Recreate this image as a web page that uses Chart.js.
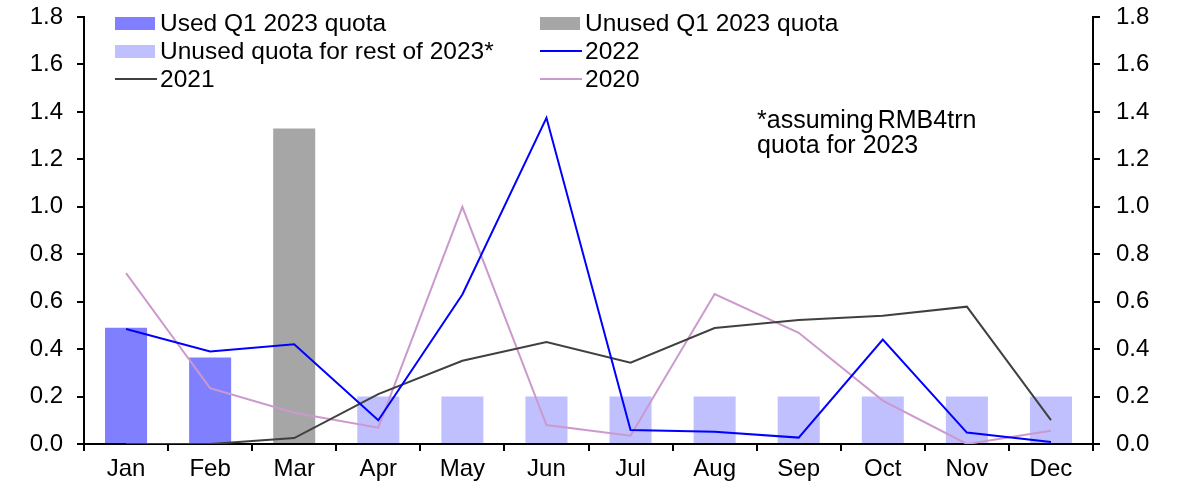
<!DOCTYPE html>
<html><head><meta charset="utf-8">
<script src="https://cdn.jsdelivr.net/npm/chart.js@4/dist/chart.umd.min.js"></script>
<style>html,body{margin:0;padding:0;background:#fff}#wrap{width:1178px;height:495px;position:relative}</style>
</head><body><div id="wrap"><canvas id="c" width="1178" height="495"></canvas></div>
<script>
const categories = ["Jan","Feb","Mar","Apr","May","Jun","Jul","Aug","Sep","Oct","Nov","Dec"];
const usedQ1 = [0.49,0.365,null,null,null,null,null,null,null,null,null,null];
const unusedQ1 = [null,null,1.33,null,null,null,null,null,null,null,null,null];
const unusedRest = [null,null,null,0.2,0.2,0.2,0.2,0.2,0.2,0.2,0.2,0.2];
const y2022 = [0.485,0.39,0.42,0.10,0.63,1.375,0.059,0.052,0.027,0.44,0.048,0.008];
const y2021 = [0,0,0.025,0.21,0.351,0.43,0.343,0.489,0.523,0.541,0.579,0.101];
const y2020 = [0.72,0.235,0.132,0.069,1.0,0.08,0.035,0.632,0.469,0.183,0.0,0.056];
const yTicks = [0,0.2,0.4,0.6,0.8,1.0,1.2,1.4,1.6,1.8];
const legendLabels = ["Used Q1 2023 quota","Unused Q1 2023 quota","Unused quota for rest of 2023*","2022","2021","2020"];
const noteWords = ["*assuming","RMB4trn"];
const noteLine2 = "quota for 2023";

const FONT = "'Liberation Sans', Arial, sans-serif";
const bar = (label,data,color)=>({type:'bar',label,data,backgroundColor:color,grouped:false,barPercentage:0.5,categoryPercentage:1,yAxisID:'y',order:2});
const line = (label,data,color)=>({type:'line',label,data,borderColor:color,backgroundColor:color,borderWidth:2,pointRadius:0,tension:0,yAxisID:'y',order:1});

const legendPlugin = {
  id:'customLegend',
  afterDraw(chart){
    const ctx = chart.ctx;
    const ds = chart.data.datasets;
    const colX = [115,540], rowY = [23,51,79];
    ctx.save();
    ctx.font = "24.5px " + FONT;
    ctx.textBaseline = 'middle';
    ds.forEach((d,i)=>{
      const x = colX[i%2], y = rowY[Math.floor(i/2)];
      if (d.type==='bar'){
        ctx.fillStyle = d.backgroundColor;
        ctx.fillRect(x,y-6,40,13);
      } else {
        ctx.strokeStyle = d.borderColor; ctx.lineWidth = 2;
        ctx.beginPath(); ctx.moveTo(x,y); ctx.lineTo(x+42,y); ctx.stroke();
      }
      ctx.fillStyle = '#000';
      ctx.fillText(legendLabels[i], x+45, y+1);
    });
    ctx.font = "25px " + FONT;
    const w0 = ctx.measureText(noteWords[0]).width;
    ctx.fillText(noteWords[0], 757, 121);
    ctx.fillText(noteWords[1], 757 + w0 + 4, 121);
    ctx.fillText(noteLine2, 757, 146);
    ctx.restore();
  }
};

const tickFont = {family:FONT,size:24};
const noPad = s => { s.paddingTop = 0; s.paddingBottom = 0; };
new Chart(document.getElementById('c'),{
  data:{labels:categories,datasets:[
    bar(legendLabels[0],usedQ1,'#8080FF'),
    bar(legendLabels[1],unusedQ1,'#A6A6A6'),
    bar(legendLabels[2],unusedRest,'#C0C0FF'),
    line(legendLabels[3],y2022,'#0000FF'),
    line(legendLabels[4],y2021,'#404040'),
    line(legendLabels[5],y2020,'#CC99CC')
  ]},
  options:{
    responsive:false,animation:false,
    layout:{padding:{top:17,left:0,right:0,bottom:0}},
    plugins:{legend:{display:false},tooltip:{enabled:false}},
    scales:{
      x:{offset:true,
        grid:{offset:true,drawOnChartArea:false,color:'#000',tickLength:7,lineWidth:2},
        border:{color:'#000',width:2},
        ticks:{color:'#000',font:tickFont,padding:4,maxRotation:0},
        afterFit(s){s.height=51; s.paddingLeft=0; s.paddingRight=0;}
      },
      y:{position:'left',min:0,max:1.8,
        afterBuildTicks(s){s.ticks=yTicks.map(v=>({value:v}));},
        grid:{drawOnChartArea:false,color:'#000',tickLength:7,lineWidth:2},
        border:{color:'#000',width:2},
        ticks:{color:'#000',font:tickFont,padding:14,callback:v=>v.toFixed(1)},
        afterFit(s){s.width=84; noPad(s);}
      },
      y2:{position:'right',min:0,max:1.8,
        afterBuildTicks(s){s.ticks=yTicks.map(v=>({value:v}));},
        grid:{drawOnChartArea:false,color:'#000',tickLength:7,lineWidth:2},
        border:{color:'#000',width:2},
        ticks:{color:'#000',font:tickFont,padding:16,callback:v=>v.toFixed(1)},
        afterFit(s){s.width=85; noPad(s);}
      }
    }
  },
  plugins:[legendPlugin]
});
</script></body></html>
